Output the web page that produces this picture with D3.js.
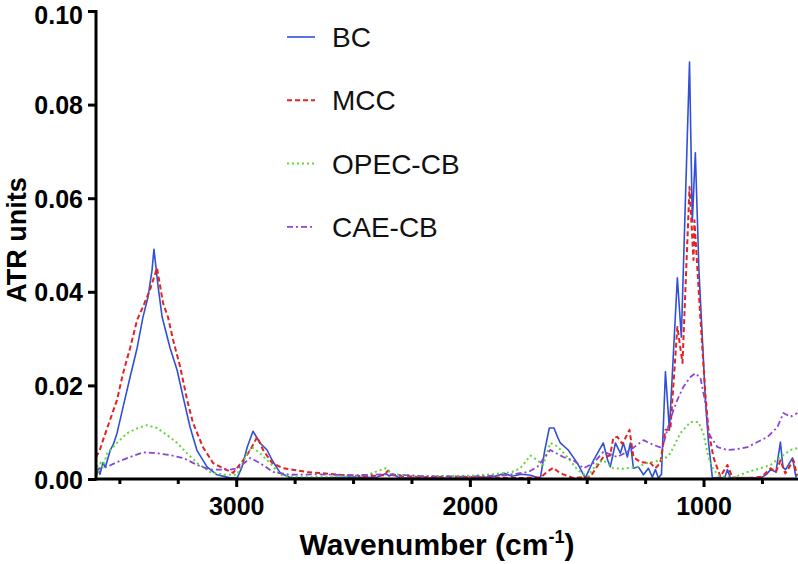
<!DOCTYPE html>
<html>
<head>
<meta charset="utf-8">
<script src="https://cdn.jsdelivr.net/npm/d3@7"></script>
<style>
  body { margin: 0; background: #fff; }
  svg { display: block; font-family: "Liberation Sans", Arial, sans-serif; }
</style>
</head>
<body>
<div id="chart"></div>
<script>
// ATR-FTIR spectra, values

let seriesNames = ["BC", "MCC", "OPEC-CB", "CAE-CB"];

let bcWn  = [3600,3590,3583,3570,3560,3540,3525,3510,3484,3454,3424,3399,3377,3360,3352,3334,3317,3283,3253,3227,3197,3167,3125,3082,3030,2996,2975,2953,2928,2898,2868,2846,2812,2769,2650,2500,2400,2360,2345,2330,2300,2150,2000,1900,1850,1820,1780,1740,1710,1698,1680,1660,1640,1625,1613,1579,1540,1506,1471,1429,1410,1399,1377,1356,1343,1326,1313,1300,1279,1257,1236,1219,1206,1193,1180,1163,1146,1112,1095,1060,1048,1035,1020,1005,992,979,962,940,910,898,885,800,756,730,713,690,671,660,649,619,605,598];
let bcAtr = [0.0005,0.0020,0.0010,0.0035,0.0025,0.0060,0.0075,0.0098,0.0154,0.0218,0.0280,0.0346,0.0390,0.0447,0.0491,0.0410,0.0346,0.0280,0.0233,0.0175,0.0110,0.0060,0.0026,0.0009,0.0003,0.0002,0.0026,0.0068,0.0102,0.0077,0.0062,0.0040,0.0013,0.0003,0.0002,0.0004,0.0003,0.0012,0.0006,0.0011,0.0002,0.0002,0.0001,0.0005,0.0012,0.0006,0.0010,0.0008,0.0003,0.0002,0.0060,0.0109,0.0109,0.0090,0.0077,0.0062,0.0034,0.0002,0.0040,0.0077,0.0040,0.0026,0.0077,0.0055,0.0077,0.0047,0.0077,0.0023,0.0026,0.0009,0.0023,0.0004,0.0020,0.0002,0.0010,0.0229,0.0105,0.0430,0.0303,0.0891,0.0550,0.0697,0.0450,0.0300,0.0169,0.0080,0.0002,0.0003,0.0002,0.0020,0.0002,0.0003,0.0002,0.0010,0.0020,0.0015,0.0079,0.0025,0.0020,0.0045,0.0005,0.0010];

let mccWn  = [3600,3585,3570,3540,3510,3484,3454,3424,3399,3369,3339,3313,3292,3270,3240,3210,3185,3142,3099,3056,3013,2970,2940,2910,2885,2846,2799,2696,2555,2450,2370,2349,2330,2200,2050,1900,1800,1698,1670,1643,1620,1600,1557,1484,1429,1400,1386,1369,1347,1317,1300,1270,1227,1206,1185,1163,1142,1112,1090,1060,1043,1039,1013,992,979,958,928,898,876,800,750,713,690,671,650,615,600];
let mccAtr = [0.0047,0.0060,0.0083,0.0126,0.0169,0.0226,0.0280,0.0340,0.0368,0.0404,0.0451,0.0376,0.0346,0.0297,0.0240,0.0169,0.0120,0.0068,0.0034,0.0023,0.0013,0.0040,0.0062,0.0090,0.0062,0.0034,0.0023,0.0015,0.0009,0.0006,0.0008,0.0018,0.0008,0.0004,0.0005,0.0003,0.0002,0.0003,0.0015,0.0024,0.0015,0.0010,0.0002,0.0005,0.0047,0.0050,0.0088,0.0090,0.0075,0.0105,0.0047,0.0036,0.0034,0.0023,0.0034,0.0105,0.0105,0.0325,0.0248,0.0624,0.0468,0.0553,0.0340,0.0180,0.0105,0.0047,0.0005,0.0030,0.0003,0.0002,0.0005,0.0023,0.0015,0.0040,0.0012,0.0040,0.0008];

let opecWn  = [3600,3590,3580,3570,3553,3510,3467,3420,3382,3339,3296,3253,3210,3167,3112,3056,2996,2953,2932,2898,2855,2812,2750,2600,2450,2360,2330,2200,2000,1900,1820,1784,1741,1711,1686,1656,1626,1583,1540,1497,1454,1429,1386,1343,1283,1240,1185,1163,1142,1099,1056,1022,1001,979,958,928,870,812,756,713,671,628,598];
let opecAtr = [0.0040,0.0015,0.0035,0.0025,0.0055,0.0077,0.0098,0.0109,0.0115,0.0109,0.0094,0.0077,0.0055,0.0034,0.0015,0.0009,0.0009,0.0055,0.0068,0.0055,0.0034,0.0009,0.0004,0.0005,0.0007,0.0023,0.0010,0.0006,0.0007,0.0010,0.0015,0.0023,0.0050,0.0040,0.0030,0.0077,0.0070,0.0047,0.0020,0.0005,0.0034,0.0040,0.0023,0.0022,0.0026,0.0034,0.0040,0.0045,0.0055,0.0098,0.0122,0.0122,0.0098,0.0047,0.0020,0.0005,0.0003,0.0015,0.0023,0.0030,0.0047,0.0062,0.0066];

let caeWn  = [3600,3553,3510,3454,3399,3339,3283,3227,3167,3112,3026,2992,2940,2898,2842,2769,2650,2500,2350,2200,2000,1850,1750,1711,1656,1600,1557,1514,1471,1429,1369,1313,1257,1215,1176,1155,1129,1112,1086,1056,1035,1013,992,979,940,898,855,812,769,726,684,658,628,598];
let caeAtr = [0.0020,0.0026,0.0036,0.0047,0.0057,0.0055,0.0051,0.0045,0.0030,0.0020,0.0020,0.0023,0.0045,0.0034,0.0015,0.0009,0.0010,0.0008,0.0010,0.0006,0.0005,0.0008,0.0015,0.0026,0.0062,0.0047,0.0040,0.0023,0.0034,0.0058,0.0047,0.0062,0.0083,0.0073,0.0066,0.0105,0.0147,0.0169,0.0197,0.0218,0.0226,0.0216,0.0162,0.0098,0.0068,0.0062,0.0064,0.0068,0.0079,0.0090,0.0111,0.0141,0.0133,0.0141];

let yTicks = [0, 0.02, 0.04, 0.06, 0.08, 0.10];
let xTicks = [3500, 3250, 3000, 2750, 2500, 2250, 2000, 1750, 1500, 1250, 1000, 750];
let xLabelled = [3000, 2000, 1000];

let width = 798, height = 564;
let margin = {top: 11, right: 1, bottom: 85, left: 96};

let echelle_x = d3.scaleLinear()
  .domain([3600, 600])
  .range([margin.left, width - margin.right]);

let echelle_y = d3.scaleLinear()
  .domain([0, 0.1])
  .range([height - margin.bottom, margin.top]);

let series = [
  {name: "BC",      wn: bcWn,   v: bcAtr,   color: "#3050d6", dash: null,      w: 1.6},
  {name: "MCC",     wn: mccWn,  v: mccAtr,  color: "#e2231f", dash: "5,3",     w: 2},
  {name: "OPEC-CB", wn: opecWn, v: opecAtr, color: "#5ed83a", dash: "2,3",     w: 2},
  {name: "CAE-CB",  wn: caeWn,  v: caeAtr,  color: "#8a45d2", dash: "6,3,2,3", w: 1.8}
];

let svg = d3.select("#chart")
  .append("svg")
    .attr("width", width)
    .attr("height", height);

svg.append("clipPath")
  .attr("id", "plot-clip")
  .append("rect")
    .attr("x", margin.left)
    .attr("y", 0)
    .attr("width", width - margin.left)
    .attr("height", height - margin.bottom);

let line = d3.line()
  .x(d => echelle_x(d[0]))
  .y(d => echelle_y(d[1]));

let lines = svg.append("g").attr("clip-path", "url(#plot-clip)");

series.forEach(s => {
  let pts = s.wn.map((w, i) => [w, s.v[i]]);
  lines.append("path")
    .datum(pts)
    .attr("fill", "none")
    .attr("stroke", s.color)
    .attr("stroke-width", s.w)
    .attr("stroke-dasharray", s.dash)
    .attr("stroke-linejoin", "round")
    .attr("d", line);
});

// axes
let axeY = d3.axisLeft(echelle_y)
  .tickValues(yTicks)
  .tickFormat(d3.format(".2f"))
  .tickSize(8)
  .tickPadding(5);

let gy = svg.append("g")
  .attr("transform", `translate(${margin.left},0)`)
  .call(axeY);

let axeX = d3.axisBottom(echelle_x)
  .tickValues(xTicks)
  .tickFormat(d => xLabelled.includes(d) ? d : "")
  .tickSize(8)
  .tickPadding(10);

let gx = svg.append("g")
  .attr("transform", `translate(0,${height - margin.bottom})`)
  .call(axeX);

gx.selectAll(".tick line")
  .attr("y2", d => xLabelled.includes(d) ? 8 : 5);

[gx, gy].forEach(g => {
  g.select(".domain")
    .attr("stroke", "#000")
    .attr("stroke-width", 3);
  g.selectAll(".tick line")
    .attr("stroke", "#000")
    .attr("stroke-width", 3);
  g.selectAll(".tick text")
    .attr("fill", "#000")
    .style("font-size", "25px")
    .style("font-weight", "bold")
    .style("font-family", "'Liberation Sans', Arial, sans-serif");
});

// top label sits against the page edge, nudge it down so it stays whole
gy.selectAll(".tick text").attr("dy", d => d === 0.1 ? "0.48em" : "0.36em");

gx.select(".domain").attr("d", `M${margin.left},0H${width}`);
gy.select(".domain").attr("d", `M0,${margin.top - 1}V${height - margin.bottom + 1.5}`);

// axis titles
let xTitle = svg.append("text")
  .attr("x", 437)
  .attr("y", 555)
  .attr("text-anchor", "middle")
  .style("font-size", "30px")
  .style("font-weight", "bold");
xTitle.append("tspan").text("Wavenumber (cm");
xTitle.append("tspan").attr("dy", -12).style("font-size", "18px").text("-1");
xTitle.append("tspan").attr("dy", 12).text(")");

svg.append("text")
  .attr("transform", "translate(26,240) rotate(-90)")
  .attr("text-anchor", "middle")
  .style("font-size", "27px")
  .style("font-weight", "bold")
  .text("ATR units");

// legend
let legend = svg.append("g");
series.forEach((s, i) => {
  let y = 37 + i * 63.3;
  legend.append("line")
    .attr("x1", 287).attr("x2", 315)
    .attr("y1", y).attr("y2", y)
    .attr("stroke", s.color)
    .attr("stroke-width", s.w)
    .attr("stroke-dasharray", s.dash);
  legend.append("text")
    .attr("x", 332)
    .attr("y", y)
    .attr("dy", "0.36em")
    .style("font-size", "28px")
    .attr("fill", "#111")
    .text(s.name);
});
</script>
</body>
</html>
